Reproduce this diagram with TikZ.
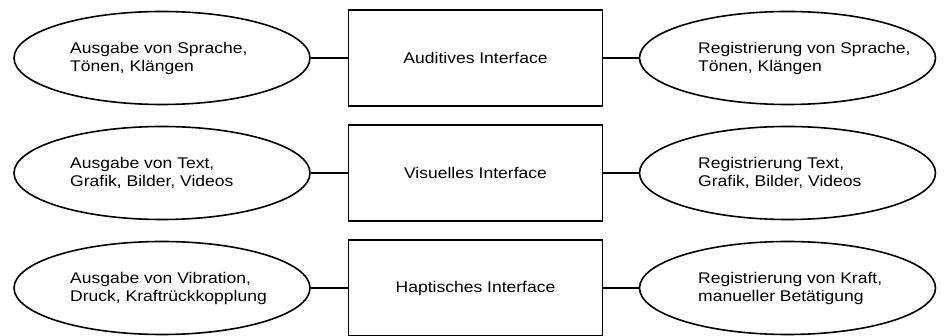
\documentclass[tikz,border=0pt]{standalone}
\usepackage{fontspec}
\setmainfont{Liberation Sans}[FakeStretch=1.13]
\usetikzlibrary{shapes.geometric}
\begin{document}
\begin{tikzpicture}[x=1pt,y=-1pt,
    font=\fontsize{15.5}{18}\selectfont,
    iface/.style={draw, line width=1.6pt, minimum width=254pt, minimum height=96pt},
    act/.style={draw, ellipse, line width=1.6pt, minimum width=296pt, minimum height=93pt},
    acttext/.style={anchor=west, align=left, inner sep=0pt}]
    \useasboundingbox (0,0) rectangle (946,336);
    % interfaces
    \node [iface] (aud) at (475.5,58) {Auditives Interface};
    \node [iface] (vis) at (475.5,173) {Visuelles Interface};
    \node [iface] (hap) at (475.5,288) {Haptisches Interface};
    % output
    \node [act] (outaud) at (162,58) {};
    \node [act] (outvis) at (162,173) {};
    \node [act] (outhap) at (162,288) {};
    \node [acttext] (outaudt) at (70,58) {Ausgabe von Sprache,\\Tönen, Klängen};
    \node [acttext] (outvist) at (70,173) {Ausgabe von Text,\\Grafik, Bilder, Videos};
    \node [acttext] (outhapt) at (70,288) {Ausgabe von Vibration,\\Druck, Kraftrückkopplung};
    % input
    \node [act] (inaud) at (787.5,58) {};
    \node [act] (invis) at (787.5,173) {};
    \node [act] (inhap) at (787.5,288) {};
    \node [acttext] (inaudt) at (698,58) {Registrierung von Sprache,\\Tönen, Klängen};
    \node [acttext] (invist) at (698,173) {Registrierung Text,\\Grafik, Bilder, Videos};
    \node [acttext] (inhapt) at (698,288) {Registrierung von Kraft,\\manueller Betätigung};
    \draw [line width=1.6pt] (outaud) -- (aud) -- (inaud);
    \draw [line width=1.6pt] (outvis) -- (vis) -- (invis);
    \draw [line width=1.6pt] (outhap) -- (hap) -- (inhap);
  \end{tikzpicture}
\end{document}
